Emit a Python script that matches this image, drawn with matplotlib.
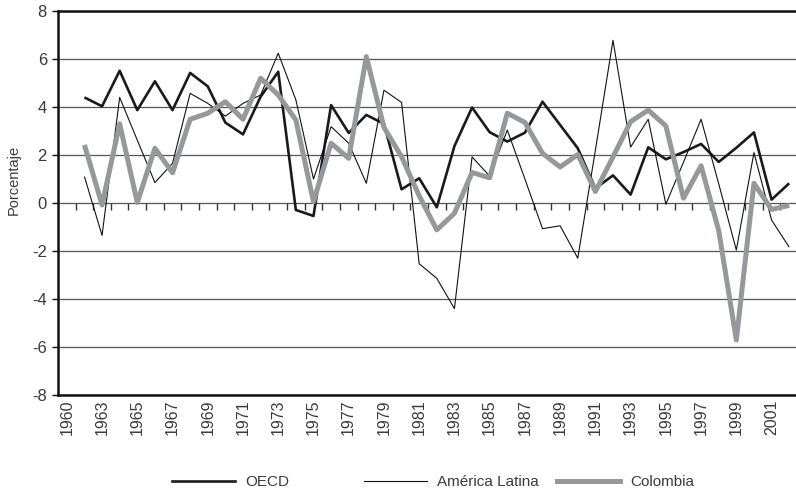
import numpy as np
import matplotlib.pyplot as plt
from matplotlib.lines import Line2D

nan = np.nan

# category labels as printed on the axis (first slot has no data)
years = ["1960", "1962", "1963", "1964", "1965", "1966", "1967", "1968", "1969",
         "1970", "1971", "1972", "1973", "1974", "1975", "1976", "1977", "1978",
         "1979", "1980", "1981", "1982", "1983", "1984", "1985", "1986", "1987",
         "1988", "1989", "1990", "1991", "1992", "1993", "1994", "1995", "1996",
         "1997", "1998", "1999", "2000", "2001", "2002"]

oecd = [nan, 4.40, 4.03, 5.51, 3.87, 5.07, 3.87, 5.42, 4.86, 3.35, 2.86, 4.43,
        5.47, -0.29, -0.54, 4.08, 2.92, 3.67, 3.30, 0.57, 1.03, -0.18, 2.37,
        3.98, 2.95, 2.56, 2.93, 4.22, 3.25, 2.28, 0.61, 1.15, 0.35, 2.32, 1.82,
        2.12, 2.46, 1.71, 2.30, 2.94, 0.14, 0.82]

latam = [nan, 1.10, -1.35, 4.40, 2.62, 0.85, 1.65, 4.57, 4.15, 3.62, 4.15, 4.50,
         6.24, 4.30, 1.00, 3.18, 2.49, 0.82, 4.70, 4.19, -2.53, -3.14, -4.40,
         1.92, 1.12, 3.04, 1.00, -1.07, -0.95, -2.30, 2.20, 6.78, 2.33, 3.49,
         -0.05, 1.70, 3.49, 0.80, -1.96, 2.10, -0.71, -1.84]

colombia = [nan, 2.42, -0.08, 3.30, 0.02, 2.28, 1.26, 3.49, 3.74, 4.22, 3.49,
            5.20, 4.50, 3.46, 0.05, 2.49, 1.86, 6.10, 3.15, 1.93, 0.30, -1.12,
            -0.43, 1.27, 1.05, 3.74, 3.36, 2.07, 1.50, 2.02, 0.48, 1.92, 3.39,
            3.87, 3.21, 0.20, 1.55, -1.15, -5.71, 0.82, -0.27, -0.10]

names = ["OECD", "América Latina", "Colombia"]

plt.rcParams['font.family'] = ['Liberation Sans', 'DejaVu Sans']
plt.rcParams['axes.unicode_minus'] = False
txt = '#3a3a3a'

fig = plt.figure(figsize=(7.96, 4.93), dpi=100)
ax = fig.add_axes([58/796, 1 - 395/493, 740/796, 384/493])

x = np.arange(len(years))
styles = [dict(color='#1a1a1a', lw=1.9),
          dict(color='#111111', lw=0.8),
          dict(color='#96999c', lw=3.6)]
for vals, st in zip([oecd, latam, colombia], styles):
    ax.plot(x, vals, solid_joinstyle='round', solid_capstyle='butt', **st)

ax.set_xlim(-0.5, len(years) - 0.5)
ax.set_ylim(-8, 8)
ax.set_yticks(range(-8, 9, 2))
ax.yaxis.grid(True, color='#555555', lw=0.9)
ax.set_axisbelow(True)
ax.set_xticks(x[::2])
ax.set_xticklabels(years[::2], rotation=90, fontsize=11.5, color=txt)
ax.tick_params(axis='x', length=0, pad=3)
ax.tick_params(axis='y', direction='out', length=4, width=1, colors='#111111',
               labelcolor=txt, labelsize=12, pad=4)
for s in ax.spines.values():
    s.set_linewidth(1.8)
    s.set_color('#111111')

# tick marks hanging below the zero line
sec = ax.secondary_xaxis(0.5)
sec.set_xticks(x[:-1] + 0.5)
sec.set_xticklabels([])
sec.tick_params(direction='in', length=5, width=1, colors='#333333')
for s in sec.spines.values():
    s.set_visible(False)

fig.text(14/796, 0.635, "Porcentaje", rotation=90, ha='center', va='center',
         fontsize=10.5, color=txt)

# legend entries laid out with even spacing
for name, st, xpos in zip(names, styles, [172/796, 364/796, 557/796]):
    h = Line2D([], [], **st)
    fig.legend([h], [name], loc='center left', bbox_to_anchor=(xpos, 0.022),
               frameon=False, fontsize=11, handlelength=4.1, handletextpad=0.7,
               borderpad=0, borderaxespad=0, labelcolor=txt)

fig.savefig("out.png", dpi=100)
